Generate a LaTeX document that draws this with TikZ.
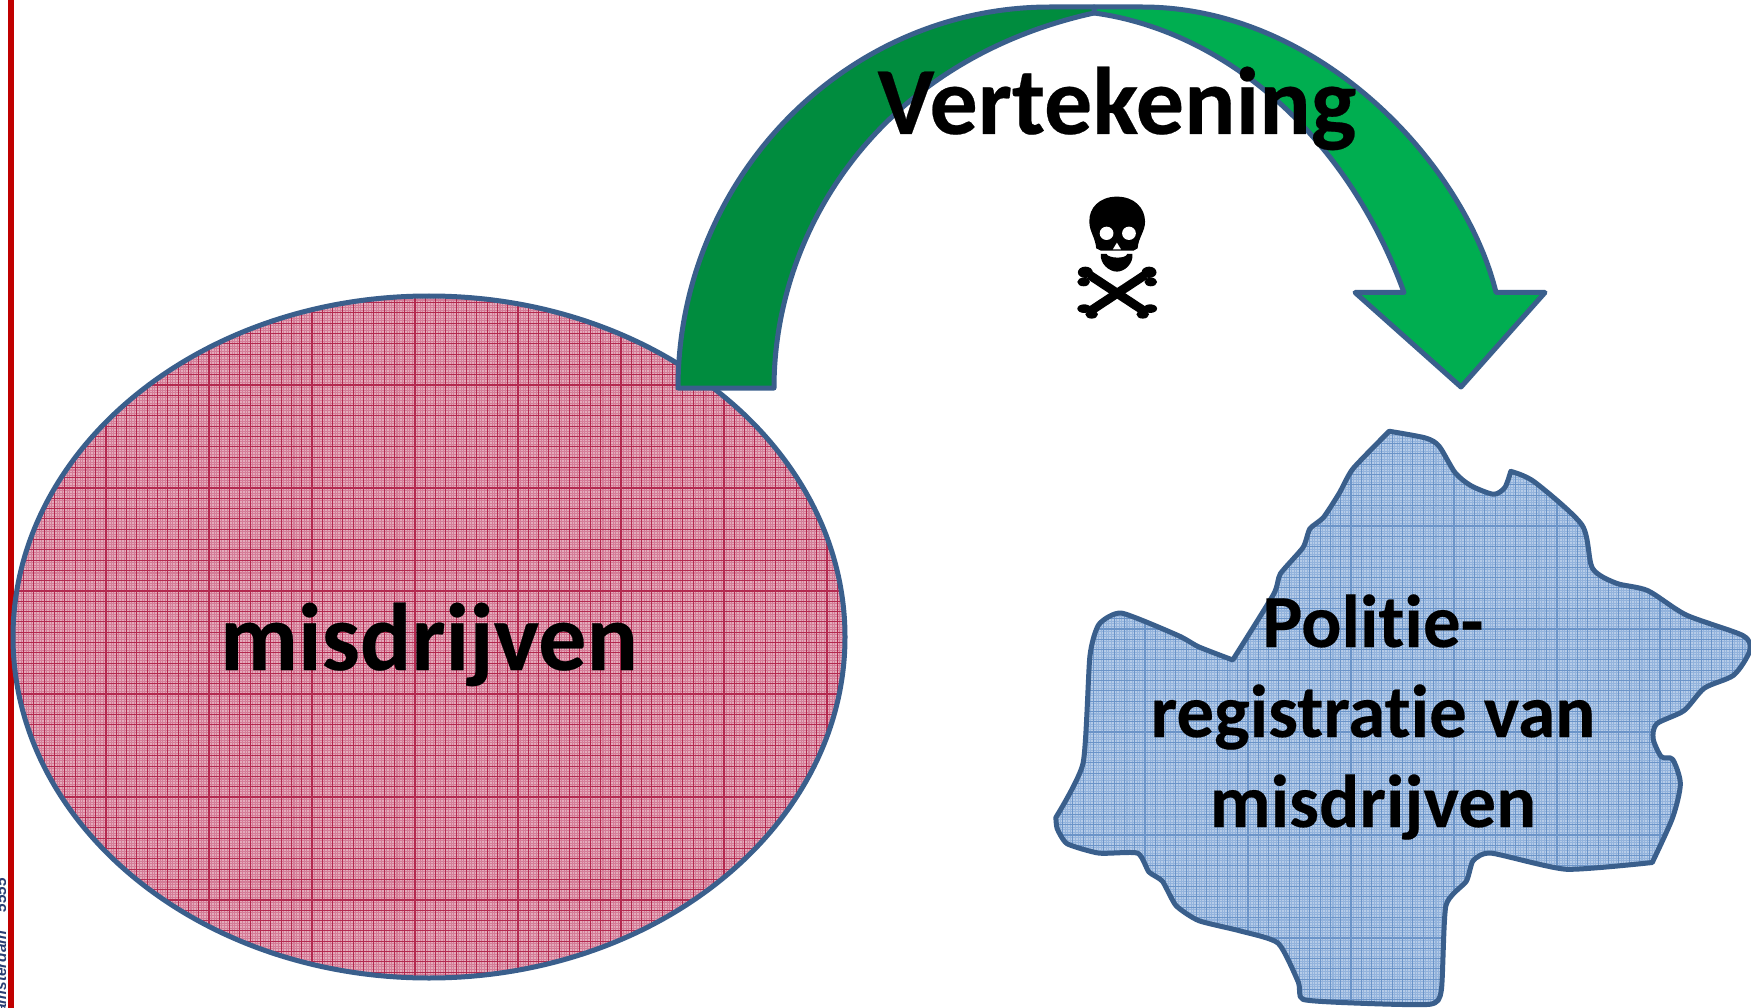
\documentclass[tikz,border=0pt]{standalone}
\usepackage{fontspec}
\setmainfont{Carlito}[BoldFont=Carlito Bold,RawFeature=-liga,BoldFeatures={FakeBold=0.25}]
\newfontfamily\sidefont{Liberation Sans}[ItalicFont=Liberation Sans Bold Italic]
\definecolor{edgeblue}{HTML}{3A5F8C}
\definecolor{sideblue}{HTML}{2B3F73}
\definecolor{dkgreen}{HTML}{008C3E}
\definecolor{ltgreen}{HTML}{00AE50}
\definecolor{pinkbase}{HTML}{E5ABBB}
\definecolor{pinkfine}{HTML}{D47C97}
\definecolor{pinkline}{HTML}{B3294F}
\definecolor{bluebase}{HTML}{B6CCE8}
\definecolor{bluefine}{HTML}{93B3DC}
\definecolor{blueline}{HTML}{6B94C8}
\definecolor{barred}{HTML}{C00000}
\tikzset{
  outline/.style={draw=edgeblue,line width=5pt,line join=round},
  bigtext/.style={font=\bfseries\fontsize{96}{96}\selectfont,anchor=base,inner sep=0pt},
  blobtext/.style={font=\bfseries\fontsize{75}{75}\selectfont,anchor=base,inner sep=0pt},
  sidetext/.style={rotate=90,inner sep=0pt,text=sideblue,font=\sidefont\itshape\fontsize{15.5}{15.5}\selectfont},
  blobT/.style={shift={(1040,420)},xscale=0.4535,yscale=0.375},
  skullT/.style={shift={(660,0)},xscale=0.574,yscale=0.3333},
}
\def\blobpath{
  plot[smooth,tension=.45] coordinates {(770,30)(850,48)(880,70)(915,140)(950,175)(1000,198)(1025,180)(1038,137)}
  -- plot[smooth,tension=.45] coordinates {(1038,137)(1090,165)(1195,280)(1218,395)(1270,435)(1340,455)(1425,520)(1550,575)(1565,615)(1530,680)(1465,715)(1420,775)(1360,810)(1352,850)(1370,898)(1395,905)(1412,970)(1395,1060)(1350,1180)}
  -- plot[smooth,tension=.35] coordinates {(1350,1180)(1160,1198)(995,1155)(955,1175)(940,1230)(895,1295)(885,1520)(860,1558)(700,1555)(580,1545)(570,1500)(525,1395)(440,1362)(350,1335)(300,1295)(270,1230)(240,1205)(215,1155)(130,1155)(60,1130)(38,1090)(35,1060)}
  -- plot[smooth,tension=.35] coordinates {(35,1060)(95,915)(110,630)(130,545)(180,515)(305,575)(350,605)(425,640)}
  -- plot[smooth,tension=.35] coordinates {(425,640)(515,465)(530,410)(580,340)(595,290)(625,260)(660,195)(690,130)(770,30)}
  -- cycle
}
\begin{document}
\begin{tikzpicture}[x=1pt,y=-1pt]
\useasboundingbox (0,0) rectangle (1751,1008);
\fill[white] (0,0) rectangle (1751,1008);
% red bar and cropped side text
\begin{scope}
  \clip (0,0) rectangle (5.5,1008);
  \node[sidetext,anchor=base] (sidenum) at (6,895) {5555};
  \node[sidetext,anchor=base east] (sidename) at (6,930) {amsterdam};
\end{scope}
\fill[barred] (8,0) rectangle (14,1008);
% ellipse
\begin{scope}
  \clip (429,637) ellipse [x radius=416,y radius=341];
  \fill[pinkbase] (0,280) rectangle (860,990);
  \foreach \i in {0,...,336} {\draw[pinkfine,line width=1.05pt] ({3+\i*2.575},280) -- ++(0,710);}
  \foreach \i in {0,...,280} {\draw[pinkfine,line width=1.05pt] (0,{282+\i*2.575}) -- ++(860,0);}
  \foreach \i in {0,...,84} {\draw[pinkline,line width=1.1pt] ({3+\i*10.3},280) -- ++(0,710);}
  \foreach \i in {0,...,70} {\draw[pinkline,line width=1.1pt] (0,{282+\i*10.3}) -- ++(860,0);}
\end{scope}
\draw[outline] (429,637) ellipse [x radius=416,y radius=341];
\node[bigtext] (mis) at (429,670) {misdrijven};
% blob
\begin{scope}
  \clip[blobT] \blobpath;
  \fill[bluebase] (1040,420) rectangle (1751,1008);
  \foreach \i in {0,...,280} {\draw[bluefine,line width=1.05pt] ({1042+\i*2.575},420) -- ++(0,588);}
  \foreach \i in {0,...,232} {\draw[bluefine,line width=1.05pt] (1040,{423+\i*2.575}) -- ++(711,0);}
  \foreach \i in {0,...,70} {\draw[blueline,line width=1.1pt] ({1042+\i*10.3},420) -- ++(0,588);}
  \foreach \i in {0,...,58} {\draw[blueline,line width=1.1pt] (1040,{423+\i*10.3}) -- ++(711,0);}
\end{scope}
\draw[outline,blobT] \blobpath;
\node[blobtext] (pol) at (1373,647) {Politie-};
\node[blobtext] (reg) at (1373,737) {registratie van};
\node[blobtext] (mis2) at (1373,827) {misdrijven};
% curved arrow
\draw[outline,fill=ltgreen] (1094,13) -- (1094,7) -- (1142,7)
   .. controls (1320,7) and (1465,165) .. (1496,292.5)
   -- (1545,292.5) -- (1461,387) -- (1355,292.5) -- (1404,292.5)
   .. controls (1345,130) and (1220,30) .. (1094,13) -- cycle;
\draw[outline,fill=dkgreen] (678,388)
   .. controls (678,179) and (845,7) .. (1050,7) -- (1094,7) -- (1094,13)
   .. controls (880,60) and (774,230) .. (774,388) -- cycle;
\node[bigtext] (vert) at (1117,134) {Vertekening};
% skull and crossbones
\begin{scope}[skullT]
  \fill[black] (796,590) .. controls (765,590) and (747,625) .. (748,665)
     .. controls (748,695) and (758,710) .. (760,745) -- (768,752) -- (825,752) -- (832,745)
     .. controls (834,710) and (845,695) .. (845,665) .. controls (845,625) and (827,590) .. (796,590) -- cycle;
  \fill[white] (778,700) ellipse [x radius=12,y radius=20];
  \fill[white] (817,700) ellipse [x radius=12,y radius=20];
  \fill[white] (796,728) -- (803,748) -- (789,748) -- cycle;
  \fill[black] (768,762) -- (778,762) .. controls (780,775) and (812,778) .. (814,762) -- (823,762)
     .. controls (825,790) and (810,815) .. (796,815) .. controls (782,815) and (766,790) .. (768,762) -- cycle;
  \draw[black,line width=9pt] (748,825) -- (845,935);
  \draw[black,line width=9pt] (845,825) -- (748,935);
  \fill[black] (741,817) ellipse [x radius=13,y radius=17];
  \fill[black] (738,846) ellipse [x radius=11,y radius=13];
  \fill[black] (852,817) ellipse [x radius=13,y radius=17];
  \fill[black] (855,846) ellipse [x radius=11,y radius=13];
  \fill[black] (739,926) ellipse [x radius=12,y radius=13];
  \fill[black] (752,943) ellipse [x radius=11,y radius=13];
  \fill[black] (854,926) ellipse [x radius=12,y radius=13];
  \fill[black] (841,943) ellipse [x radius=11,y radius=13];
\end{scope}
\end{tikzpicture}
\end{document}
